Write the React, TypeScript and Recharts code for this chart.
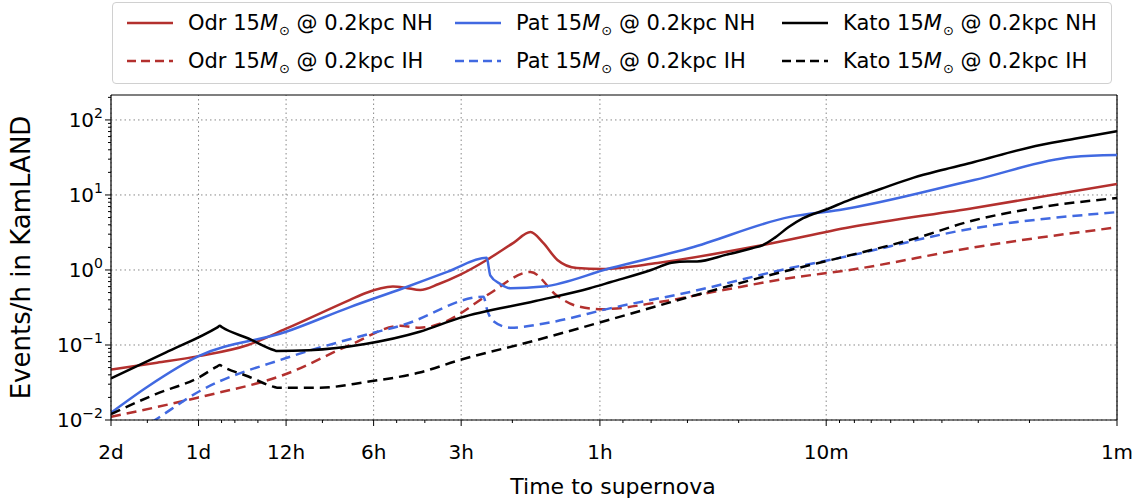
import React from "react";
import { LineChart, Line, XAxis, YAxis, ReferenceLine } from "recharts";

// x values are minutes before the supernova
const xMajor = [2880, 1440, 720, 360, 180, 60, 10, 1];
const xMajorLabels = ["2d", "1d", "12h", "6h", "3h", "1h", "10m", "1m"];
const xMinor = [2160, 1200, 1080, 900, 540, 300, 240, 120, 50, 40, 30, 20, 9, 8, 7, 6, 5, 4, 3, 2];

const yMajor = [0.01, 0.1, 1, 10, 100];
const yMajorExp = ["\u22122", "\u22121", "0", "1", "2"];
const yMinor = [
  0.02, 0.03, 0.04, 0.05, 0.06, 0.07, 0.08, 0.09,
  0.2, 0.3, 0.4, 0.5, 0.6, 0.7, 0.8, 0.9,
  2, 3, 4, 5, 6, 7, 8, 9,
  20, 30, 40, 50, 60, 70, 80, 90, 200,
];
const yTop = 215;

// [minutes, events/h]
const odrNH = [
  [2880, 0.047], [2000, 0.058], [1440, 0.071], [973, 0.1], [720, 0.165],
  [434, 0.4], [385, 0.49], [309, 0.6], [280, 0.58], [249, 0.54], [215, 0.65],
  [182, 0.86], [147, 1.36], [119, 2.3], [104, 3.2], [94, 2.3], [84, 1.36],
  [72, 1.06], [59, 1.03], [38, 1.24], [16.5, 2.15], [8.3, 3.7], [3.1, 6.7], [1, 14],
];
const odrIH = [
  [2880, 0.011], [1440, 0.02], [720, 0.041], [434, 0.1], [292, 0.18],
  [250, 0.17], [201, 0.21], [182, 0.26], [143, 0.49], [104, 0.94], [84, 0.45],
  [72, 0.33], [59, 0.3], [38, 0.37], [22.6, 0.54], [13.3, 0.78], [8.3, 1.0],
  [3.1, 2.0], [1, 3.7],
];
const patNH = [
  [2880, 0.0125], [2150, 0.028], [1440, 0.071], [720, 0.15], [434, 0.32],
  [285, 0.57], [200, 0.95], [147, 1.45], [143, 0.85], [132, 0.65], [122, 0.57],
  [94, 0.6], [55, 1.06], [29.4, 1.96], [13.3, 5.1], [9, 6.3], [3.1, 15.8],
  [1.42, 32], [1, 34],
];
const patIH = [
  [2880, 0.0043], [2033, 0.01], [1435, 0.024], [720, 0.067], [385, 0.136],
  [285, 0.185], [151, 0.44], [146, 0.28], [140, 0.21], [122, 0.17], [89, 0.2],
  [55, 0.31], [29.4, 0.51], [13.3, 1.06], [9, 1.45], [3.1, 3.6], [1, 5.9],
];
const katoNH = [
  [2880, 0.036], [1870, 0.079], [1240, 0.172], [1216, 0.18], [1195, 0.172],
  [970, 0.122], [790, 0.085], [774, 0.083], [600, 0.085], [385, 0.103],
  [250, 0.15], [182, 0.23], [100, 0.385], [65, 0.57], [55, 0.69], [40, 1.0],
  [34, 1.25], [30, 1.3], [27.8, 1.3], [22, 1.6], [18, 1.95], [16.5, 2.15],
  [15, 2.7], [13.5, 3.7], [12, 4.9], [10, 6.4], [8.3, 8.6], [6.5, 12], [5, 17],
  [4, 21.5], [3.1, 27.5], [2, 43], [1.4, 56], [1, 71],
];
const katoIH = [
  [2880, 0.012], [2030, 0.022], [1435, 0.037], [1240, 0.052], [1216, 0.054],
  [1195, 0.052], [970, 0.038], [790, 0.0275], [774, 0.027], [550, 0.027],
  [385, 0.032], [250, 0.043], [182, 0.063], [100, 0.115], [55, 0.22],
  [29.4, 0.44], [13.3, 1.0], [9, 1.45], [5, 2.6], [3.1, 4.6], [2, 6.5], [1, 9.1],
];

const RED = "#b3302e";
const BLUE = "#4169e1";
const BLACK = "#000000";
const FONT = "DejaVu Sans, sans-serif";

const series = [
  { name: "Odr", hier: "NH", data: odrNH, color: RED, dashed: false },
  { name: "Odr", hier: "IH", data: odrIH, color: RED, dashed: true },
  { name: "Pat", hier: "NH", data: patNH, color: BLUE, dashed: false },
  { name: "Pat", hier: "IH", data: patIH, color: BLUE, dashed: true },
  { name: "Kato", hier: "NH", data: katoNH, color: BLACK, dashed: false },
  { name: "Kato", hier: "IH", data: katoIH, color: BLACK, dashed: true },
];

const toRows = (pts: number[][]) => pts.map(([t, v]) => ({ t, v }));

function XTick({ x, y, payload }: any) {
  const i = xMajor.indexOf(payload.value);
  const major = i >= 0;
  return (
    <g>
      <line x1={x} x2={x} y1={y} y2={y + (major ? 6 : 3)} stroke="#000" />
      {major && (
        <text x={x} y={y + 39} textAnchor="middle" fontSize={20} fontFamily={FONT} fill="#000">
          {xMajorLabels[i]}
        </text>
      )}
    </g>
  );
}

function YTick({ x, y, payload }: any) {
  const i = yMajor.indexOf(payload.value);
  const major = i >= 0;
  return (
    <g>
      <line x1={x} x2={x - (major ? 6 : 3)} y1={y} y2={y} stroke="#000" />
      {major && (
        <text x={x - 8} y={y + 7} textAnchor="end" fontSize={20} fontFamily={FONT} fill="#000">
          10
          <tspan fontSize={14} dy={-9}>
            {yMajorExp[i]}
          </tspan>
        </text>
      )}
    </g>
  );
}

function LegendItem({ s }: any) {
  return (
    <div style={{ display: "flex", alignItems: "center", height: 38 }}>
      <svg width={46} height={10} style={{ marginRight: 15 }}>
        <line
          x1={0}
          x2={46}
          y1={5}
          y2={5}
          stroke={s.color}
          strokeWidth={2.5}
          strokeDasharray={s.dashed ? "9 5" : undefined}
        />
      </svg>
      <span style={{ whiteSpace: "nowrap" }}>
        {s.name} 15<i>M</i>
        <span style={{ fontSize: 13, position: "relative", top: 5, marginLeft: 1 }}>{"\u2299"}</span>
        {" @ 0.2kpc " + s.hier}
      </span>
    </div>
  );
}

export default function App() {
  const cols = [
    [series[0], series[1]],
    [series[2], series[3]],
    [series[4], series[5]],
  ];
  const colLeft = [14, 342, 669];
  return (
    <div style={{ position: "absolute", left: 0, top: 0, width: 1132, height: 498, background: "#fff" }}>
      <div
        style={{
          position: "absolute",
          left: 112,
          top: 2,
          width: 998,
          height: 80,
          border: "1px solid #d0d0d0",
          borderRadius: 4,
          fontFamily: FONT,
          fontSize: 21,
          color: "#000",
        }}
      >
        {cols.map((c, ci) => (
          <div key={ci} style={{ position: "absolute", left: colLeft[ci], top: 1 }}>
            <LegendItem s={c[0]} />
            <LegendItem s={c[1]} />
          </div>
        ))}
      </div>
      <LineChart width={1132} height={498} margin={{ top: 95, right: 15, left: 0, bottom: 0 }}>
        <XAxis
          dataKey="t"
          type="number"
          scale="log"
          domain={[1, 2880]}
          reversed
          allowDataOverflow
          ticks={[...xMajor, ...xMinor]}
          interval={0}
          tickSize={0}
          tickMargin={0}
          tickLine={false}
          tick={<XTick />}
          axisLine={{ stroke: "#000", strokeWidth: 1.2 }}
          height={78}
        />
        <YAxis
          type="number"
          scale="log"
          domain={[0.01, yTop]}
          allowDataOverflow
          ticks={[...yMajor, ...yMinor]}
          interval={0}
          tickSize={0}
          tickMargin={0}
          tickLine={false}
          tick={<YTick />}
          axisLine={{ stroke: "#000", strokeWidth: 1.2 }}
          width={111}
          label={{
            value: "Events/h in KamLAND",
            angle: -90,
            position: "insideLeft",
            dx: 16,
            dy: 0,
            style: { fontSize: 26, fontFamily: FONT, fill: "#000", textAnchor: "middle" },
          }}
        />
        {xMajor.map((t) => (
          <ReferenceLine key={"gx" + t} x={t} stroke="#888" strokeDasharray="1.5 3" />
        ))}
        {yMajor.map((v) => (
          <ReferenceLine key={"gy" + v} y={v} stroke="#888" strokeDasharray="1.5 3" />
        ))}
        <ReferenceLine y={yTop} stroke="#000" strokeWidth={1.2} />
        <ReferenceLine x={1} stroke="#000" strokeWidth={1.2} />
        {series.map((s) => (
          <Line
            key={s.name + s.hier}
            data={toRows(s.data)}
            dataKey="v"
            name={s.name + " " + s.hier}
            type="monotone"
            stroke={s.color}
            strokeWidth={2.5}
            strokeDasharray={s.dashed ? "10 6" : undefined}
            dot={false}
            activeDot={false}
            isAnimationActive={false}
          />
        ))}
        <text x={613} y={494} textAnchor="middle" fontSize={22} fontFamily={FONT} fill="#000">
          Time to supernova
        </text>
      </LineChart>
    </div>
  );
}
